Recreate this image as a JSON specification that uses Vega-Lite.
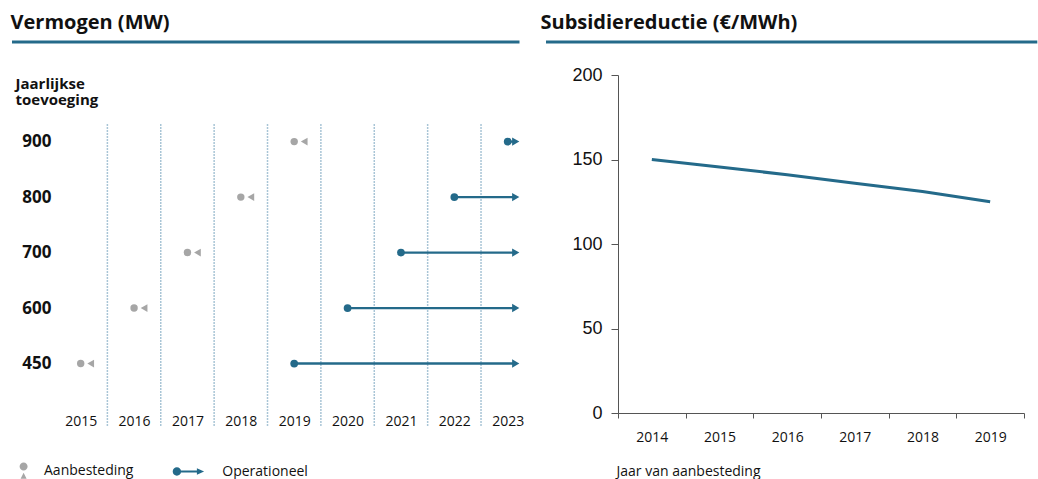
{
  "$schema": "https://vega.github.io/schema/vega-lite/v6.json",
  "padding": {"left": 10, "top": 12, "right": 0, "bottom": 0},
  "spacing": 5,
  "config": {"view": {"stroke": null}, "font": "Open Sans"},
  "hconcat": [
    {
      "spacing": 32,
      "vconcat": [
        {
          "width": 507.5,
          "height": 1,
          "title": {"text": "Vermogen (MW)", "anchor": "start", "font": "Open Sans", "fontSize": 20, "fontWeight": "bold", "color": "#111", "offset": -8, "baseline": "alphabetic"},
          "data": {"values": [{"v": 1}]},
          "mark": {"type": "rule", "color": "#246a8a", "strokeWidth": 3},
          "encoding": {"y": {"field": "v", "type": "quantitative", "scale": {"domain": [0, 1]}, "axis": null}}
        },
        {
          "spacing": 0,
          "hconcat": [
            {
              "width": 3,
              "height": 1,
              "data": {"values": []},
              "mark": {"type": "point"}
            },
            {
              "width": 480.4,
              "height": 302,
              "data": {"values": [
                {"mw": 900, "tender": 2019, "start": 2023, "end": 2023.15},
                {"mw": 800, "tender": 2018, "start": 2022, "end": 2023.15},
                {"mw": 700, "tender": 2017, "start": 2021, "end": 2023.15},
                {"mw": 600, "tender": 2016, "start": 2020, "end": 2023.15},
                {"mw": 450, "tender": 2015, "start": 2019, "end": 2023.15}
              ]},
              "layer": [
                {
                  "data": {"values": [{"g": 2015.5}, {"g": 2016.5}, {"g": 2017.5}, {"g": 2018.5}, {"g": 2019.5}, {"g": 2020.5}, {"g": 2021.5}, {"g": 2022.5}]},
                  "mark": {"type": "rule", "color": "#a9c5d6", "strokeWidth": 1.5, "strokeDash": [2, 1]},
                  "encoding": {
                    "x": {"field": "g", "type": "quantitative", "title": null, "scale": {"domain": [2014.5, 2023.5]},
                      "axis": {"values": [2015, 2016, 2017, 2018, 2019, 2020, 2021, 2022, 2023], "format": "d", "domain": false, "ticks": false, "tickSize": 0, "grid": false, "labelFlush": false, "labelFont": "Open Sans", "labelFontSize": 14, "labelColor": "#111", "labelBaseline": "middle", "labelPadding": 0, "offset": -5, "title": null}}
                  }
                },
                {
                  "mark": {"type": "point", "shape": "circle", "filled": true, "size": 55, "opacity": 1},
                  "encoding": {
                    "x": {"field": "tender", "type": "quantitative", "title": null, "scale": {"domain": [2014.5, 2023.5]},
                      "axis": {"values": [2015, 2016, 2017, 2018, 2019, 2020, 2021, 2022, 2023], "format": "d", "domain": false, "ticks": false, "tickSize": 0, "grid": false, "labelFlush": false, "labelFont": "Open Sans", "labelFontSize": 14, "labelColor": "#111", "labelBaseline": "middle", "labelPadding": 0, "offset": -5, "title": null}},
                    "y": {"field": "mw", "type": "ordinal", "scale": {"type": "point", "domain": [900, 800, 700, 600, 450], "padding": 0.722, "align": 0.22},
                      "axis": {"domain": false, "ticks": false, "labelFont": "Open Sans", "labelFontSize": 17, "labelFontWeight": "bold", "labelColor": "#111", "labelPadding": 3, "title": ["Jaarlijkse", "toevoeging"], "titleFont": "Open Sans", "titleFontSize": 15, "titleFontWeight": "bold", "titleColor": "#111", "titleAngle": 0, "titleAlign": "left", "titleBaseline": "alphabetic", "titleX": -39, "titleY": -36, "titleLineHeight": 16.5}},
                    "color": {"datum": "Aanbesteding", "type": "nominal", "scale": {"domain": ["Aanbesteding", "Operationeel"], "range": ["#a6a6a6", "#246a8a"]},
                      "legend": {"orient": "none", "legendX": 10, "legendY": 422, "direction": "horizontal", "title": null, "labelFont": "Open Sans", "labelFontSize": 14, "labelColor": "#111", "labelOffset": 8, "columnPadding": 38.3, "symbolSize": 64, "symbolStrokeWidth": 0, "symbolOpacity": 1, "padding": 0,
                        "symbolType": {"expr": "datum.value === 'Aanbesteding' ? 'M -2.35 -1.2 A 1 1 0 1 1 -0.35 -1.2 A 1 1 0 1 1 -2.35 -1.2 Z M -1.35 0.35 L -0.6 1.85 L -2.1 1.85 Z' : 'M -8.65 0 A 1.05 1.05 0 1 1 -6.55 0 A 1.05 1.05 0 1 1 -8.65 0 Z M -6.7 -0.28 L -2.5 -0.28 L -2.5 0.28 L -6.7 0.28 Z M -2.6 -0.8 L -0.8 0 L -2.6 0.8 Z'"},
                        "symbolFillColor": {"expr": "datum.value === 'Aanbesteding' ? '#a6a6a6' : '#246a8a'"}}}
                  }
                },
                {
                  "mark": {"type": "point", "shape": "triangle-left", "filled": true, "size": 60, "opacity": 1, "xOffset": 10},
                  "encoding": {
                    "x": {"field": "tender", "type": "quantitative", "title": null, "scale": {"domain": [2014.5, 2023.5]}},
                    "y": {"field": "mw", "type": "ordinal", "scale": {"type": "point", "domain": [900, 800, 700, 600, 450], "padding": 0.722, "align": 0.22}},
                    "color": {"datum": "Aanbesteding", "type": "nominal"}
                  }
                },
                {
                  "mark": {"type": "rule", "strokeWidth": 2.3},
                  "encoding": {
                    "x": {"field": "start", "type": "quantitative", "title": null, "scale": {"domain": [2014.5, 2023.5]}},
                    "x2": {"field": "end"},
                    "y": {"field": "mw", "type": "ordinal", "scale": {"type": "point", "domain": [900, 800, 700, 600, 450], "padding": 0.722, "align": 0.22}},
                    "color": {"datum": "Operationeel", "type": "nominal"}
                  }
                },
                {
                  "mark": {"type": "point", "shape": "triangle-right", "filled": true, "size": 70, "opacity": 1},
                  "encoding": {
                    "x": {"field": "end", "type": "quantitative", "title": null, "scale": {"domain": [2014.5, 2023.5]}},
                    "y": {"field": "mw", "type": "ordinal", "scale": {"type": "point", "domain": [900, 800, 700, 600, 450], "padding": 0.722, "align": 0.22}},
                    "color": {"datum": "Operationeel", "type": "nominal"}
                  }
                },
                {
                  "mark": {"type": "point", "shape": "circle", "filled": true, "size": 60, "opacity": 1},
                  "encoding": {
                    "x": {"field": "start", "type": "quantitative", "title": null, "scale": {"domain": [2014.5, 2023.5]}},
                    "y": {"field": "mw", "type": "ordinal", "scale": {"type": "point", "domain": [900, 800, 700, 600, 450], "padding": 0.722, "align": 0.22}},
                    "color": {"datum": "Operationeel", "type": "nominal"}
                  }
                }
              ]
            }
          ]
        }
      ]
    },
    {
      "spacing": 22,
      "vconcat": [
        {
          "width": 491.3,
          "height": 1,
          "title": {"text": "Subsidiereductie (€/MWh)", "anchor": "start", "font": "Open Sans", "fontSize": 20, "fontWeight": "bold", "color": "#111", "offset": -8, "baseline": "alphabetic", "dx": -4},
          "data": {"values": [{"v": 1}]},
          "mark": {"type": "rule", "color": "#246a8a", "strokeWidth": 3},
          "encoding": {"y": {"field": "v", "type": "quantitative", "scale": {"domain": [0, 1]}, "axis": null}}
        },
        {
          "spacing": 0,
          "hconcat": [
            {
              "width": 25,
              "height": 1,
              "data": {"values": []},
              "mark": {"type": "point"}
            },
            {
              "width": 406,
              "height": 338,
              "data": {"values": [
                {"year": "2014", "v": 150},
                {"year": "2015", "v": 145.5},
                {"year": "2016", "v": 141},
                {"year": "2017", "v": 136},
                {"year": "2018", "v": 131},
                {"year": "2019", "v": 125}
              ]},
              "mark": {"type": "line", "color": "#246a8a", "strokeWidth": 3},
              "encoding": {
                "x": {"field": "year", "type": "ordinal", "scale": {"type": "band", "paddingInner": 0, "paddingOuter": 0},
                  "axis": {"tickBand": "extent", "labelAngle": 0, "domainColor": "#555", "tickColor": "#555", "tickSize": 5, "labelFont": "Open Sans", "labelFontSize": 14, "labelColor": "#111", "labelPadding": 12, "title": "Jaar van aanbesteding", "titleFont": "Open Sans", "titleFontSize": 14, "titleFontWeight": "normal", "titleColor": "#111", "titleAnchor": "start", "titleAlign": "left", "titleX": -2, "titleY": 58, "titleBaseline": "middle"}},
                "y": {"field": "v", "type": "quantitative", "scale": {"domain": [0, 200]},
                  "axis": {"values": [0, 50, 100, 150, 200], "grid": false, "domainColor": "#555", "tickColor": "#555", "tickSize": 7, "labelFont": "Liberation Sans", "labelFontSize": 18, "labelColor": "#111", "labelPadding": 9, "title": null}}
              }
            }
          ]
        }
      ]
    }
  ]
}
